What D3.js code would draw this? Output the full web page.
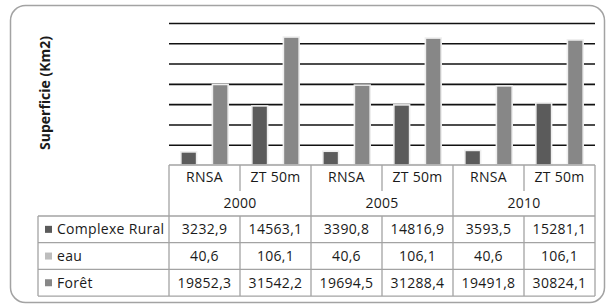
<!DOCTYPE html>
<html>
<head>
<meta charset="utf-8">
<script src="https://cdn.jsdelivr.net/npm/d3@7"></script>
<style>
  html, body { margin: 0; padding: 0; background: #fff; }
  svg { display: block; font-family: "Open Sans", sans-serif; }
</style>
</head>
<body>
<svg id="chart" width="606" height="304"></svg>
<script>
// data
var years = ["2000", "2005", "2010"]
var sites = ["RNSA", "ZT 50m"]
var seriesNames = ["Complexe Rural", "eau", "Forêt"]
var complexeRural = [3232.9, 14563.1, 3390.8, 14816.9, 3593.5, 15281.1]
var eau = [40.6, 106.1, 40.6, 106.1, 40.6, 106.1]
var foret = [19852.3, 31542.2, 19694.5, 31288.4, 19491.8, 30824.1]
var gridTicks = [5000, 10000, 15000, 20000, 25000, 30000, 35000]

var seriesColours = {"Complexe Rural": "#5b5b5b", "eau": "#bdbdbd", "Forêt": "#878787"}
var seriesValues = {"Complexe Rural": complexeRural, "eau": eau, "Forêt": foret}

// one key per bar group (year + site)
var cats = []
years.forEach(y => sites.forEach(s => cats.push(y + "|" + s)))

var svg = d3.select("#chart")

// chart frame
svg.append("rect")
  .attr("x", 10.5).attr("y", 5.5)
  .attr("width", 594).attr("height", 297)
  .attr("rx", 15).attr("ry", 15)
  .attr("fill", "#fff")
  .attr("stroke", "#a3a3a3")
  .attr("stroke-width", 1.5)

var plotLeft = 169, plotRight = 595, plotTop = 23, plotBottom = 165

var x = d3.scaleBand().domain(cats).range([plotLeft, plotRight])
var xs = d3.scaleBand().domain(seriesNames).range([0, x.bandwidth()])
  .paddingInner(0).paddingOuter(0.75)
var y = d3.scaleLinear().domain([0, 35000]).range([plotBottom, plotTop])

// gridlines (no labels on the axis in the original)
var grid = svg.append("g")
  .attr("transform", "translate(" + plotLeft + ",0)")
  .call(d3.axisLeft(y).tickValues(gridTicks).tickSize(-(plotRight - plotLeft)).tickFormat(""))
grid.select(".domain").remove()
grid.selectAll("line").attr("stroke", "#111").attr("stroke-width", 1.6)

// bars
var groups = svg.append("g").selectAll("g")
  .data(seriesNames)
  .enter().append("g")
  .attr("fill", d => seriesColours[d])

groups.selectAll("rect")
  .data(s => seriesValues[s].map((v, i) => ({s: s, cat: cats[i], v: v})))
  .enter().append("rect")
  .attr("x", d => x(d.cat) + xs(d.s))
  .attr("width", xs.bandwidth())
  .attr("y", d => y(d.v))
  .attr("height", d => y(0) - y(d.v))
  .attr("stroke", "#eeeeee")
  .attr("stroke-width", 1.6)

// y axis title
svg.append("text")
  .attr("transform", "translate(50,93) rotate(-90)")
  .attr("text-anchor", "middle")
  .attr("font-weight", "bold")
  .attr("font-size", 14)
  .attr("fill", "#1a1a1a")
  .text("Superficie (Km2)")

// ---- data table ----
var tableLeft = 38
var headTop = plotBottom, headMid = 191, headBottom = 216
var rowH = 26.7
var border = "#a3a3a3"
var fmt = d3.formatLocale({decimal: ",", thousands: "", grouping: [3], currency: ["", ""]}).format(".1f")

var tbl = svg.append("g")
  .attr("stroke", border).attr("stroke-width", 1.3).attr("fill", "none")

// header outline
tbl.append("line").attr("x1", plotLeft).attr("x2", plotRight).attr("y1", headTop).attr("y2", headTop)
tbl.append("line").attr("x1", tableLeft).attr("x2", plotRight).attr("y1", headBottom).attr("y2", headBottom)
// year group borders
var yearEdges = years.map((yr, i) => x(cats[i * 2])).concat([plotRight])
tbl.selectAll("line.yr").data(yearEdges).enter().append("line")
  .attr("x1", d => d).attr("x2", d => d)
  .attr("y1", headTop).attr("y2", headBottom + rowH * 3)
// site separators (top half only)
tbl.selectAll("line.site").data(years).enter().append("line")
  .attr("x1", (d, i) => x(cats[i * 2 + 1])).attr("x2", (d, i) => x(cats[i * 2 + 1]))
  .attr("y1", headTop).attr("y2", headMid)
// data rows
seriesNames.forEach((s, r) => {
  var yb = headBottom + rowH * (r + 1)
  tbl.append("line").attr("x1", tableLeft).attr("x2", plotRight).attr("y1", yb).attr("y2", yb)
})
cats.forEach((c, i) => {
  if (i % 2 == 1) {
    tbl.append("line").attr("x1", x(c)).attr("x2", x(c))
      .attr("y1", headBottom).attr("y2", headBottom + rowH * 3)
  }
})
tbl.append("line").attr("x1", tableLeft).attr("x2", tableLeft)
  .attr("y1", headBottom).attr("y2", headBottom + rowH * 3)

var txt = svg.append("g").attr("font-size", 14).attr("fill", "#1a1a1a")
  .attr("letter-spacing", 0.3)

// site names
txt.selectAll("text.site").data(cats).enter().append("text")
  .attr("x", d => x(d) + x.bandwidth() / 2)
  .attr("y", 182)
  .attr("text-anchor", "middle")
  .text(d => d.split("|")[1])

// year labels
txt.selectAll("text.year").data(years).enter().append("text")
  .attr("x", (d, i) => x(cats[i * 2]) + x.bandwidth())
  .attr("y", 208)
  .attr("text-anchor", "middle")
  .text(d => d)

// row headers with legend keys, then values
seriesNames.forEach((s, r) => {
  var cy = headBottom + rowH * r + rowH / 2
  svg.append("rect")
    .attr("x", 45).attr("y", cy - 3.5)
    .attr("width", 7).attr("height", 7)
    .attr("fill", seriesColours[s])
  txt.append("text")
    .attr("x", 57).attr("y", cy + 5)
    .text(s)
  txt.selectAll(null).data(seriesValues[s]).enter().append("text")
    .attr("x", (d, i) => x(cats[i]) + x.bandwidth() / 2)
    .attr("y", cy + 5)
    .attr("text-anchor", "middle")
    .text(d => fmt(d))
})
</script>
</body>
</html>
